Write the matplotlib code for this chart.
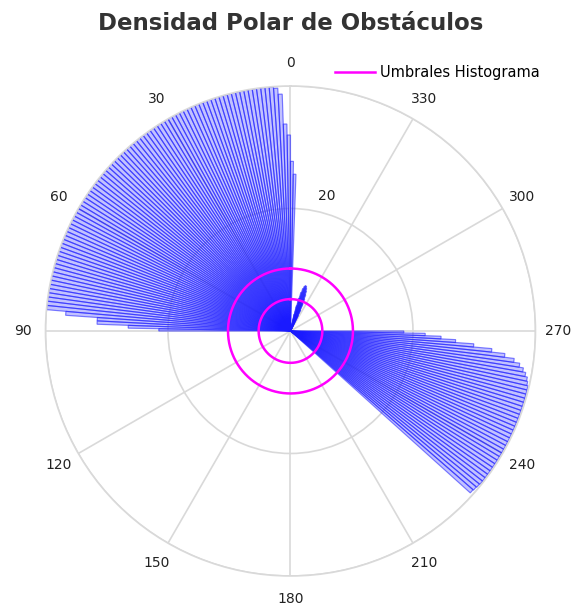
import numpy as np
import matplotlib.pyplot as plt

# histogram bins (degrees) and obstacle counts per sector
angulos_a = list(range(-2, 90))
conteos_a = [25.6, 27.7, 32.0, 33.8, 38.7, 39.7,
             40.0, 40.0, 40.0, 40.0, 40.0, 40.0, 40.0, 40.0, 40.0, 40.0,
             40.0, 40.0, 40.0, 40.0, 40.0, 40.0, 40.0, 40.0, 40.0, 40.0,
             40.0, 40.0, 40.0, 40.0, 40.0, 40.0, 40.0, 40.0, 40.0, 40.0,
             40.0, 40.0, 40.0, 40.0, 40.0, 40.0, 40.0, 40.0, 40.0, 40.0,
             40.0, 40.0, 40.0, 40.0, 40.0, 40.0, 40.0, 40.0, 40.0, 40.0,
             40.0, 40.0, 40.0, 40.0, 40.0, 40.0, 40.0, 40.0, 40.0, 40.0,
             40.0, 40.0, 40.0, 40.0, 40.0, 40.0, 40.0, 40.0, 40.0, 40.0,
             40.0, 40.0, 40.0, 40.0, 40.0, 40.0, 40.0, 40.0, 40.0, 40.0,
             40.0,
             36.8, 31.6, 31.6, 26.5, 21.5]

angulos_b = list(range(228, 270))
conteos_b = [39.5, 39.6, 39.7, 39.8, 39.8, 39.8, 39.8, 39.8, 39.8, 39.8,
             39.8, 39.8, 39.8, 39.8, 39.8, 39.8, 39.8, 39.8, 39.8, 39.8,
             39.8, 39.8, 39.8, 39.8, 39.8, 39.8, 39.8, 39.8, 39.8, 39.6,
             39.4, 39.0, 38.5, 37.8, 36.8, 35.2, 33.0, 30.0, 27.0, 24.6,
             22.0, 18.5]

angulos_c = list(range(333, 348))
conteos_c = [2.8, 3.8, 4.8, 5.7, 6.4, 7.0, 7.4, 7.7, 7.8, 7.6, 7.2, 6.5,
             5.5, 4.2, 2.8]

umbrales = [5.2, 10.2]

angulos = np.array(angulos_a + angulos_b + angulos_c)
conteos = np.array(conteos_a + conteos_b + conteos_c)

fig = plt.figure(figsize=(5.73, 6.09), dpi=100)
ax = fig.add_axes([0.0794, 0.0542, 0.8551, 0.8046], projection='polar')
ax.set_theta_zero_location('N')
ax.set_theta_direction(1)

ax.bar(np.deg2rad(angulos), conteos, width=np.deg2rad(1), align='edge',
       facecolor=(0.3, 0.3, 1.0, 0.34), edgecolor=(0.1, 0.1, 1.0, 0.55),
       linewidth=0.85, zorder=2)

# threshold rings
t = np.linspace(0, 2 * np.pi, 400)
for i, u in enumerate(umbrales):
    ax.plot(t, np.full_like(t, u), color='#ff00ff', linewidth=1.8, zorder=3,
            label='Umbrales Histograma' if i == 0 else None)

ax.set_ylim(0, 40)
ax.set_yticks([20, 40])
ax.set_yticklabels([])
ax.text(np.deg2rad(345), 22.8, '20', ha='center', va='center', fontsize=10,
        color='#222222')
ax.set_thetagrids(range(0, 360, 30), [str(a) for a in range(0, 360, 30)],
                  fontsize=10, color='#222222')
ax.tick_params(axis='x', pad=6)
ax.grid(color='#d9d9d9', linewidth=1.2)
ax.set_axisbelow(True)
ax.spines['polar'].set_color('#d9d9d9')
ax.spines['polar'].set_linewidth(1.2)

fig.text(0.508, 1 - 23 / 609, 'Densidad Polar de Obstáculos', ha='center',
         va='center', fontsize=16.5, fontweight='bold', color='#333333')

fig.legend(loc='center left', bbox_to_anchor=(0.585, 0.881), frameon=False,
           fontsize=10.5, handlelength=2.75, handletextpad=0.35, borderpad=0,
           borderaxespad=0)

fig.savefig('out.png', dpi=100)
